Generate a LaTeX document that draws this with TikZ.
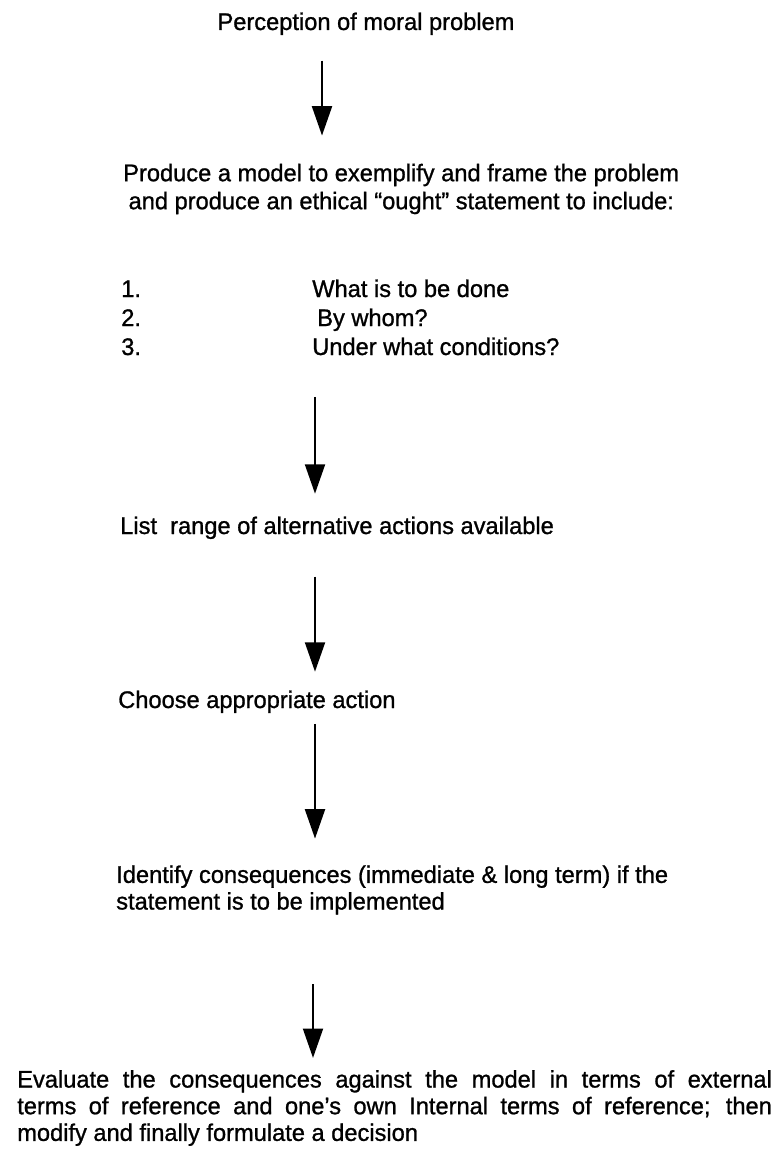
\documentclass[tikz,border=0pt]{standalone}
\usepackage{fontspec}
\setmainfont{Liberation Sans}[FakeStretch=0.985, FakeBold=1]
\usetikzlibrary{arrows.meta}

\tikzset{
  txt/.style={inner sep=0pt, font=\fontsize{18}{20}\selectfont},
  flow/.style={-{Triangle[length=22pt,width=15pt]}, line width=1.4pt},
}

\begin{document}
\begin{tikzpicture}[x=0.75pt, y=-0.75pt]
\useasboundingbox (0,0) rectangle (778,1152);

\coordinate (axis1) at (322,0);
\coordinate (axis) at (315,0);
\coordinate (axis5) at (313,0);

\node[txt, anchor=base] (perc) at (366,30) {Perception of moral problem};
\node[txt, anchor=west, align=left, font=\fontsize{18}{21}\selectfont] (model) at (123,189) {Produce a model to exemplify and frame the problem\\\hspace*{4pt}and produce an ethical “ought” statement to include:};

\node[txt, anchor=base west] (n1) at (121,297) {1.};
\node[txt, anchor=base west] (n2) at (121,326) {2.};
\node[txt, anchor=base west] (n3) at (121,355) {3.};
\node[txt, anchor=base west] (what) at (312,297) {What is to be done};
\node[txt, anchor=base west] (whom) at (317,326) {By whom?};
\node[txt, anchor=base west] (cond) at (312,355) {Under what conditions?};

\node[txt, anchor=base west] (alts) at (120,534) {List\ \ range of alternative actions available};
\node[txt, anchor=base west] (choose) at (118,708) {Choose appropriate action};
\node[txt, anchor=west, align=left] (conseq) at (116,890) {Identify consequences (immediate \& long term) if the\\statement is to be implemented};
\node[txt, anchor=west, align=left] (eval) at (17,1108) {\makebox[566pt][s]{Evaluate the consequences against the model in terms of external}\\\makebox[566pt][s]{terms of reference and one’s own Internal terms of reference; then}\\modify and finally formulate a decision};

\draw[flow, shorten <=19pt, shorten >=21pt] (perc.south -| axis1) -- (model.north -| axis1);
\draw[flow, shorten <=31pt, shorten >=17pt] (cond.south -| axis) -- (alts.north -| axis);
\draw[flow, shorten <=28pt, shorten >=14pt] (alts.south -| axis) -- (choose.north -| axis);
\draw[flow, shorten <=8pt, shorten >=20pt] (choose.south -| axis) -- (conseq.north -| axis);
\draw[flow, shorten <=52pt, shorten >=9pt] (conseq.south -| axis5) -- (eval.north -| axis5);
\end{tikzpicture}
\end{document}
